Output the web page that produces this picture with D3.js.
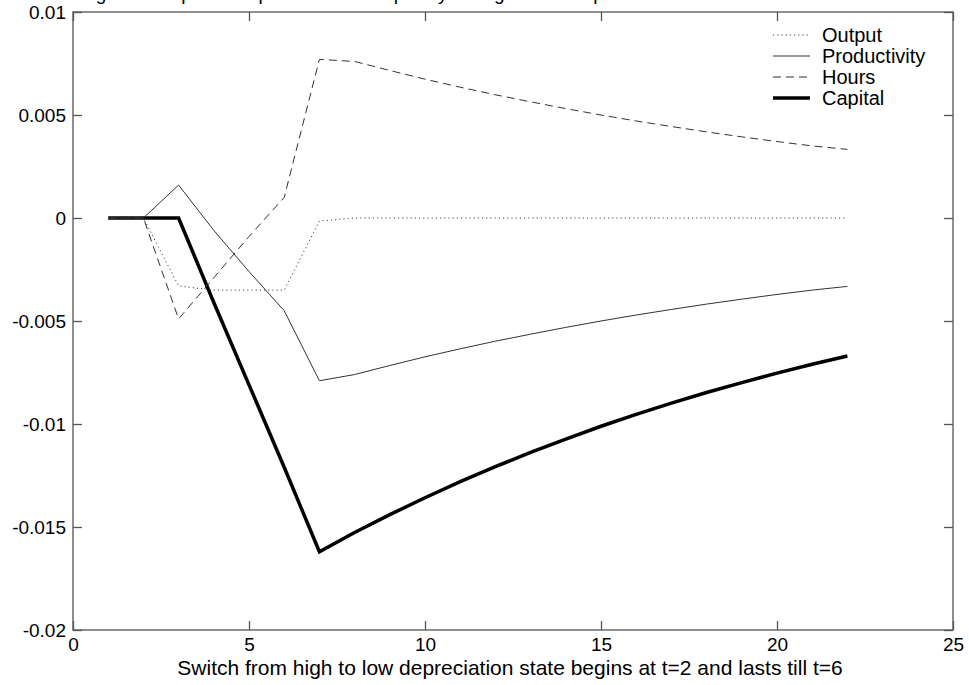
<!DOCTYPE html>
<html>
<head>
<meta charset="utf-8">
<style>
    body { margin: 0; background: #fff; }
    svg { display: block; font-family: Arial, 'Liberation Sans', sans-serif; }
</style>
</head>
<body>
<svg width="969" height="685"></svg>

<script src="https://d3js.org/d3.v7.min.js"></script>
<script>
    // periods t = 1..22
    let periods = [1, 2, 3, 4, 5, 6, 7, 8, 9, 10, 11, 12, 13, 14, 15, 16, 17, 18, 19, 20, 21, 22]

    let output = [0, 0, -0.0033, -0.0035, -0.0035, -0.0035, -0.00015, 0, 0, 0, 0, 0,
        0, 0, 0, 0, 0, 0, 0, 0, 0, 0]
    let productivity = [0, 0, 0.0016, -0.0006, -0.0026, -0.0045, -0.0079, -0.0076, -0.00716, -0.00674,
        -0.00635, -0.00598, -0.00564, -0.00531, -0.00500, -0.00471, -0.00444, -0.00418, -0.00394,
        -0.00371, -0.00350, -0.00332]
    let hours = [0, 0, -0.0049, -0.0029, -0.0009, 0.0010, 0.0077, 0.0076, 0.00716, 0.00674,
        0.00635, 0.00598, 0.00564, 0.00531, 0.00500, 0.00471, 0.00444, 0.00418, 0.00394,
        0.00371, 0.00350, 0.00333]
    let capital = [0, 0, 0, -0.0041, -0.0081, -0.0121, -0.0162, -0.01527, -0.01440, -0.01358,
        -0.01280, -0.01207, -0.01138, -0.01073, -0.01011, -0.00953, -0.00899, -0.00847,
        -0.00799, -0.00753, -0.00710, -0.00670]

    let xTicks = [0, 5, 10, 15, 20, 25]
    let yTicks = [-0.02, -0.015, -0.01, -0.005, 0, 0.005, 0.01]

    let seriesNames = ["Output", "Productivity", "Hours", "Capital"]

    let titleText = "Figure 3: Impulse responses to a temporary change in the depreciation state"
    let xLabelText = "Switch from high to low depreciation state begins at t=2 and lasts till t=6"

    let plotLeft = 73, plotRight = 953, plotTop = 12, plotBottom = 630
    let tickFont = 19, labelFont = 21, legendFont = 20

    let svg = d3.select("svg")

    let x = d3.scaleLinear().domain([0, 25]).range([plotLeft, plotRight])
    let y = d3.scaleLinear().domain([-0.02, 0.01]).range([plotBottom, plotTop])

    let fmt = d => d === 0 ? "0" : String(+d.toFixed(3))

    // title, mostly cut off by the top of the picture
    svg.append("text")
        .attr("x", 80)
        .attr("y", 0)
        .attr("font-size", tickFont)
        .text(titleText)

    // frame
    svg.append("rect")
        .attr("x", plotLeft)
        .attr("y", plotTop)
        .attr("width", plotRight - plotLeft)
        .attr("height", plotBottom - plotTop)
        .attr("fill", "none")
        .attr("stroke", "#555")
        .attr("stroke-width", 1.3)

    // axes with inward ticks on all four sides
    let tickLen = 9
    let axisColor = "#555"

    svg.append("g")
        .attr("transform", `translate(0,${plotBottom})`)
        .call(d3.axisBottom(x).tickValues(xTicks).tickSizeInner(-tickLen).tickSizeOuter(0).tickPadding(8).tickFormat(d3.format("d")))
    svg.append("g")
        .attr("transform", `translate(0,${plotTop})`)
        .call(d3.axisTop(x).tickValues(xTicks).tickSizeInner(-tickLen).tickSizeOuter(0).tickFormat(""))
    svg.append("g")
        .attr("transform", `translate(${plotLeft},0)`)
        .call(d3.axisLeft(y).tickValues(yTicks).tickSizeInner(-tickLen).tickSizeOuter(0).tickPadding(7).tickFormat(fmt))
    svg.append("g")
        .attr("transform", `translate(${plotRight},0)`)
        .call(d3.axisRight(y).tickValues(yTicks).tickSizeInner(-tickLen).tickSizeOuter(0).tickFormat(""))

    svg.selectAll(".domain").remove()
    svg.selectAll(".tick line").attr("stroke", axisColor).attr("stroke-width", 1.3)
    svg.selectAll(".tick text")
        .attr("fill", "#000")
        .attr("font-size", tickFont)
        .attr("font-family", "Arial, 'Liberation Sans', sans-serif")

    // x label
    svg.append("text")
        .attr("x", 510)
        .attr("y", 675)
        .attr("text-anchor", "middle")
        .attr("font-size", labelFont)
        .text(xLabelText)

    let styles = {
        Output: { color: "#444", width: 1, dash: "1.2,3" },
        Productivity: { color: "#333", width: 1, dash: null },
        Hours: { color: "#333", width: 1, dash: "8,5" },
        Capital: { color: "#000", width: 3.5, dash: null }
    }
    let dataByName = { Output: output, Productivity: productivity, Hours: hours, Capital: capital }

    let line = d3.line()
        .x((d, i) => x(periods[i]))
        .y(d => y(d))

    // draw thick capital first so the thin lines stay visible where they start
    let drawOrder = ["Capital", "Output", "Productivity", "Hours"]
    drawOrder.forEach(name => {
        let s = styles[name]
        svg.append("path")
            .datum(dataByName[name])
            .attr("d", line)
            .attr("fill", "none")
            .attr("stroke", s.color)
            .attr("stroke-width", s.width)
            .attr("stroke-dasharray", s.dash)
            .attr("stroke-linejoin", "miter")
    })

    // legend
    let legend = svg.append("g")
    seriesNames.forEach((name, i) => {
        let s = styles[name]
        let ly = 35 + i * 21
        legend.append("line")
            .attr("x1", 773).attr("x2", 810)
            .attr("y1", ly).attr("y2", ly)
            .attr("stroke", s.color)
            .attr("stroke-width", s.width)
            .attr("stroke-dasharray", s.dash)
        legend.append("text")
            .attr("x", 822)
            .attr("y", ly + 7)
            .attr("font-size", legendFont)
            .text(name)
    })
</script>
</body>
</html>
